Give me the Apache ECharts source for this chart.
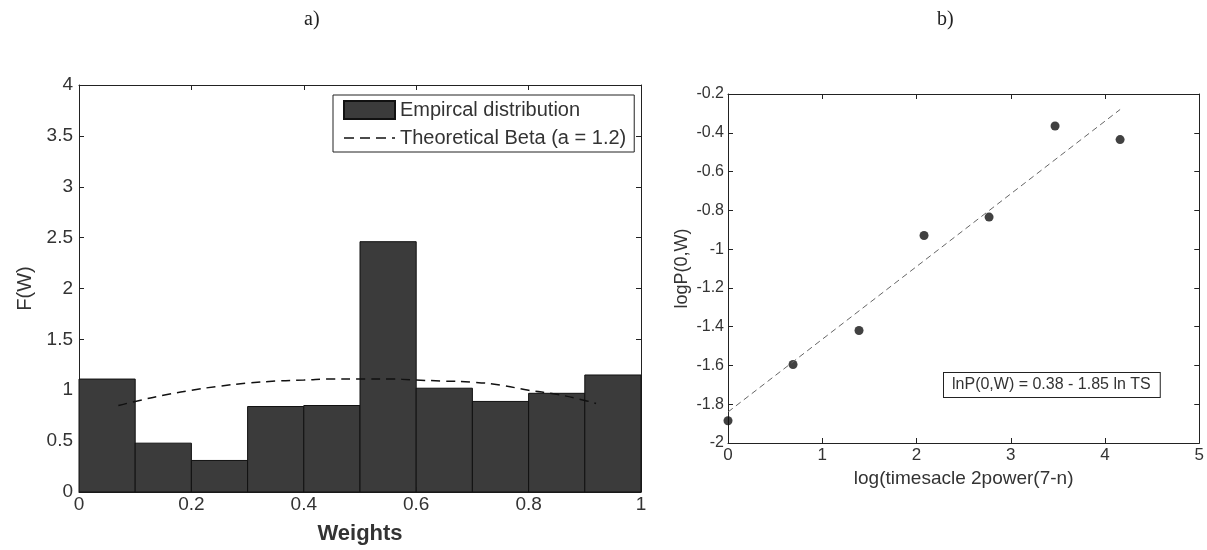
<!DOCTYPE html>
<html>
<head>
<meta charset="utf-8">
<script src="https://cdn.jsdelivr.net/npm/echarts@6/dist/echarts.min.js"></script>
<style>
html,body{margin:0;padding:0;background:#fff;}
#c{width:1207px;height:550px;}
</style>
</head>
<body>
<div id="c"></div>
<script>
// ---- Panel a) histogram ----
var binEdges = [0, 0.1, 0.2, 0.3, 0.4, 0.5, 0.6, 0.7, 0.8, 0.9, 1.0];
var binHeights = [1.11, 0.48, 0.31, 0.84, 0.85, 2.46, 1.02, 0.89, 0.97, 1.15];
var betaX = [0.07, 0.1, 0.15, 0.2, 0.25, 0.3, 0.35, 0.4, 0.45, 0.5, 0.55, 0.6, 0.65, 0.7, 0.75, 0.8, 0.85, 0.9, 0.92];
var betaY = [0.85, 0.89, 0.95, 1.0, 1.04, 1.07, 1.09, 1.1, 1.11, 1.11, 1.11, 1.1, 1.09, 1.08, 1.05, 1.0, 0.96, 0.9, 0.87];
var leftXTicks = [0, 0.2, 0.4, 0.6, 0.8, 1];
var leftYTicks = [0, 0.5, 1, 1.5, 2, 2.5, 3, 3.5, 4];

// ---- Panel b) log-log fit ----
var ptX = [0, 0.69, 1.39, 2.08, 2.77, 3.47, 4.16];
var ptY = [-1.885, -1.595, -1.42, -0.93, -0.835, -0.365, -0.435];
var fitX = [0, 4.16];
var fitY = [-1.84, -0.28];
var rightXTicks = [0, 1, 2, 3, 4, 5];
var rightYTicks = [-2, -1.8, -1.6, -1.4, -1.2, -1, -0.8, -0.6, -0.4, -0.2];

var histData = binHeights.map(function (h, i) { return [binEdges[i], binEdges[i + 1], h]; });
var betaData = betaX.map(function (x, i) { return [x, betaY[i]]; });
var ptData = ptX.map(function (x, i) { return [x, ptY[i]]; });
var fitData = fitX.map(function (x, i) { return [x, fitY[i]]; });

var FONT = 'Arial, "Liberation Sans", sans-serif';
var AX = '#222';

function axisBase(extra) {
  var o = {
    axisLine: { show: true, onZero: false, lineStyle: { color: AX, width: 1 } },
    axisTick: { show: true, inside: true, length: 5, lineStyle: { color: AX } },
    splitLine: { show: false },
    axisLabel: { color: '#333', fontFamily: FONT }
  };
  for (var k in extra) o[k] = extra[k];
  return o;
}

var chart = echarts.init(document.getElementById('c'), null, { renderer: 'canvas' });
var option = {
  animation: false,
  backgroundColor: '#fff',
  grid: [
    { left: 79, top: 85, width: 562, height: 410 },
    { left: 728, top: 94, width: 474, height: 349 }
  ],
  xAxis: [
    axisBase({ type: 'value', gridIndex: 0, min: 0, max: 1, interval: 0.2, position: 'bottom',
      axisLabel: { color: '#333', fontFamily: FONT, fontSize: 19, margin: 3 },
      name: 'Weights', nameLocation: 'middle', nameGap: 31,
      nameTextStyle: { fontFamily: FONT, fontSize: 22, fontWeight: 'bold', color: '#333' } }),
    axisBase({ type: 'value', gridIndex: 0, min: 0, max: 1, interval: 0.2, position: 'top',
      axisLabel: { show: false } }),
    axisBase({ type: 'value', gridIndex: 1, min: 0, max: 5, interval: 1, position: 'bottom',
      axisLabel: { color: '#333', fontFamily: FONT, fontSize: 17, margin: 4 },
      name: 'log(timesacle 2power(7-n)', nameLocation: 'middle', nameGap: 24,
      nameTextStyle: { fontFamily: FONT, fontSize: 19, color: '#333' } }),
    axisBase({ type: 'value', gridIndex: 1, min: 0, max: 5, interval: 1, position: 'top',
      axisLabel: { show: false } })
  ],
  yAxis: [
    axisBase({ type: 'value', gridIndex: 0, min: 0, max: 4, interval: 0.5, position: 'left',
      axisLabel: { color: '#333', fontFamily: FONT, fontSize: 19, margin: 6 },
      name: 'F(W)', nameLocation: 'middle', nameGap: 44,
      nameTextStyle: { fontFamily: FONT, fontSize: 20, color: '#333' } }),
    axisBase({ type: 'value', gridIndex: 0, min: 0, max: 4, interval: 0.5, position: 'right',
      axisLabel: { show: false } }),
    axisBase({ type: 'value', gridIndex: 1, min: -2, max: -0.2, interval: 0.2, position: 'left',
      axisLabel: { color: '#333', fontFamily: FONT, fontSize: 16, margin: 4 },
      name: 'logP(0,W)', nameLocation: 'middle', nameGap: 37,
      nameTextStyle: { fontFamily: FONT, fontSize: 18, color: '#333' } }),
    axisBase({ type: 'value', gridIndex: 1, min: -2, max: -0.2, interval: 0.2, position: 'right',
      axisLabel: { show: false } })
  ],
  legend: {
    left: 333, top: 95, orient: 'vertical',
    borderColor: '#222', borderWidth: 1, borderRadius: 0,
    padding: [5, 8, 4, 10], itemGap: 8, itemWidth: 51, itemHeight: 18,
    textStyle: { fontFamily: FONT, fontSize: 20, color: '#333' },
    data: [
      { name: 'Empircal distribution', icon: 'rect' },
      { name: 'Theoretical Beta (a = 1.2)', itemStyle: { opacity: 0 },
        lineStyle: { color: '#111', width: 1.5, type: [10, 6] } }
    ]
  },
  series: [
    {
      name: 'Empircal distribution', type: 'custom', xAxisIndex: 0, yAxisIndex: 0,
      itemStyle: { color: '#3b3b3b', borderColor: '#111', borderWidth: 1 },
      encode: { x: [0, 1], y: 2 },
      data: histData,
      renderItem: function (params, api) {
        var p0 = api.coord([api.value(0), 0]);
        var p1 = api.coord([api.value(1), api.value(2)]);
        return {
          type: 'rect',
          shape: { x: p0[0], y: p1[1], width: p1[0] - p0[0], height: p0[1] - p1[1] },
          style: { fill: '#3b3b3b', stroke: '#111', lineWidth: 1 }
        };
      }
    },
    {
      name: 'Theoretical Beta (a = 1.2)', type: 'line', xAxisIndex: 0, yAxisIndex: 0,
      data: betaData, symbol: 'none', smooth: true, z: 5,
      lineStyle: { color: '#111', width: 1.5, type: [9, 6] },
      itemStyle: { color: '#111' }
    },
    {
      name: 'fit', type: 'line', xAxisIndex: 2, yAxisIndex: 2,
      data: fitData, symbol: 'none',
      lineStyle: { color: '#666', width: 1, type: [6, 4] }
    },
    {
      name: 'points', type: 'scatter', xAxisIndex: 2, yAxisIndex: 2,
      data: ptData, symbol: 'circle', symbolSize: 9,
      itemStyle: { color: '#111' }
    }
  ],
  graphic: [
    { type: 'text', left: 304, top: 10, style: { text: 'a)', font: '20px "Liberation Serif", serif', fill: '#222' } },
    { type: 'text', left: 937, top: 10, style: { text: 'b)', font: '20px "Liberation Serif", serif', fill: '#222' } },
    { type: 'text', left: 943, top: 372, z: 10,
      style: { text: 'lnP(0,W) = 0.38 - 1.85 ln TS', font: '16px ' + FONT, fill: '#333',
        backgroundColor: '#fff', borderColor: '#222', borderWidth: 1, padding: [4, 9, 4, 8] } }
  ]
};
chart.setOption(option);
</script>
</body>
</html>
